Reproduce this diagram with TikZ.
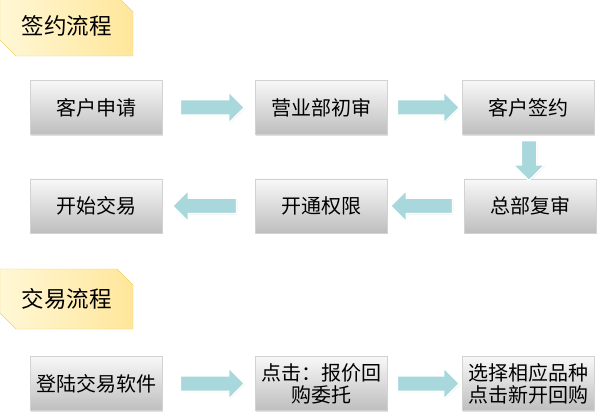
\documentclass[tikz,border=0pt]{standalone}
\usepackage{fontspec}
\newfontfamily\cjk{Noto Sans CJK SC}
\usepackage{tikz}
\usetikzlibrary{calc, shapes.arrows, shapes.misc, shadows}
\definecolor{mgold}{HTML}{F3CF62}
\definecolor{mlightgold}{HTML}{FFF7D6}
\definecolor{mmidgold}{HTML}{FFE69A}
\definecolor{mcyan}{HTML}{A8D8DB}
\definecolor{mboxtop}{HTML}{F8F8F8}
\definecolor{mboxbot}{HTML}{BEBEBE}
\tikzset{
  titlebox/.style={chamfered rectangle, chamfered rectangle xsep=8pt,
                   chamfered rectangle ysep=8pt,
                   chamfered rectangle corners={north east, south west},
                   draw=mgold, left color=mlightgold, right color=mmidgold,
                   minimum width=133pt, minimum height=60pt, inner sep=0pt,
                   font=\cjk\fontsize{22.5}{25}\selectfont},
  stepbox/.style={draw=gray!35, top color=mboxtop, bottom color=mboxbot,
                  minimum width=132pt, minimum height=54pt, inner sep=1pt,
                  align=center, font=\cjk\fontsize{20}{22}\selectfont,
                  drop shadow={opacity=0.25, shadow xshift=1pt, shadow yshift=-1.5pt}},
  blockarr/.style={single arrow, draw=white, line width=1.5pt, fill=mcyan,
                   inner sep=7pt, single arrow head extend=8pt,
                   minimum height=#1, outer sep=0pt,
                   drop shadow={opacity=0.2, shadow xshift=0.8pt, shadow yshift=-0.8pt}},
  blockarr/.default=64pt,
}
\begin{document}
\begin{tikzpicture}[x=1pt, y=-1pt]
  \useasboundingbox (0,0) rectangle (597,414);

  % 签约流程
  \node[titlebox] (t1) at (66.5, 26) {签约流程};

  \node[stepbox] (sq) at (96, 107.5) {客户申请};
  \node[stepbox] (yy) at (321, 107.5) {营业部初审};
  \node[stepbox] (qy) at (528, 107.5) {客户签约};
  \node[stepbox] (zb) at (530, 206) {总部复审};
  \node[stepbox] (kt) at (321, 206) {开通权限};
  \node[stepbox] (ks) at (96, 206) {开始交易};

  \node[blockarr] (a1) at ($(sq.east)!.5!(yy.west)$) {};
  \node[blockarr=62pt] (a2) at ($(yy.east)!.5!(qy.west)$) {};
  \node[blockarr=40pt, shape border rotate=270] (a3) at ($(qy.south)!.5!(zb.north)$) {};
  \node[blockarr=62pt, shape border rotate=180] (a4) at ($(kt.east)!.5!(zb.west)$) {};
  \node[blockarr, shape border rotate=180] (a5) at ($(ks.east)!.5!(kt.west)$) {};

  % 交易流程
  \node[titlebox] (t2) at (66.5, 299) {交易流程};

  \node[stepbox] (dl) at (96, 383.5) {登陆交易软件};
  \node[stepbox] (dj) at (321, 383.5) {点击：报价回\\购委托};
  \node[stepbox] (xz) at (528, 383.5) {选择相应品种\\点击新开回购};

  \node[blockarr] (b1) at ($(dl.east)!.5!(dj.west)$) {};
  \node[blockarr=62pt] (b2) at ($(dj.east)!.5!(xz.west)$) {};
\end{tikzpicture}
\end{document}
